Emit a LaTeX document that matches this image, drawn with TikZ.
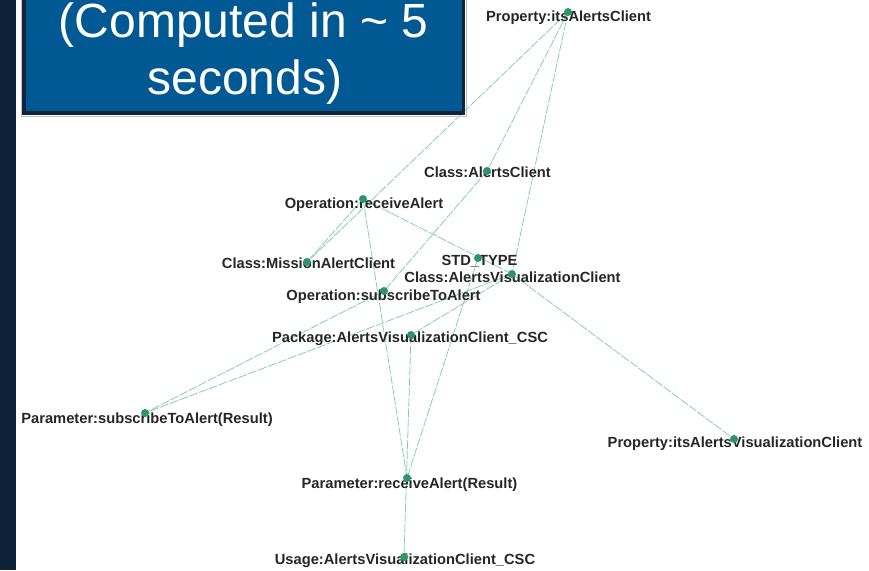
\documentclass[tikz,border=0pt]{standalone}
\usepackage{fontspec}
\setmainfont{Liberation Sans}
\pgfdeclarelayer{paper}
\pgfdeclarelayer{edges}
\pgfdeclarelayer{labels}
\pgfsetlayers{paper,edges,labels,main}
\definecolor{stripnavy}{RGB}{14,34,57}
\definecolor{boxblue}{RGB}{0,89,146}
\definecolor{boxedge}{RGB}{16,36,60}
\definecolor{edgemint}{RGB}{128,206,172}
\definecolor{dotgreen}{RGB}{44,150,104}
\tikzset{
  vdot/.style={circle,fill=dotgreen,draw=none,inner sep=0pt,minimum size=8pt},
  vlabel/.style={anchor=base,inner sep=0pt,text=black!85,font=\fontsize{14.7}{16}\selectfont\bfseries},
  dep/.style={draw=edgemint,line width=0.75pt,dash pattern=on 9pt off 1.5pt},
  bigtext/.style={anchor=base,inner sep=0pt,text=white,font=\fontsize{48}{58}\selectfont}
}
\begin{document}
\begin{tikzpicture}[x=1pt,y=-1pt]
\useasboundingbox (0,0) rectangle (869,570);
\begin{pgfonlayer}{paper}
\fill[white] (0,0) rectangle (869,570);
\end{pgfonlayer}

% graph vertices
\begin{scope}
\clip (23,0) rectangle (869,570);
\node[vdot] (piac)  at (568,12)  {};
\node[vdot] (cac)   at (487,171) {};
\node[vdot] (ra)    at (363,199) {};
\node[vdot] (mac)   at (307,262) {};
\node[vdot] (std)   at (478,258) {};
\node[vdot] (cavc)  at (512,274) {};
\node[vdot] (sta)   at (384,291) {};
\node[vdot] (pkg)   at (411,335) {};
\node[vdot] (pstar) at (145,413) {};
\node[vdot] (piavc) at (734,439) {};
\node[vdot] (prar)  at (407,478) {};
\node[vdot] (usg)   at (404,557) {};

\begin{pgfonlayer}{labels}
\node[vlabel] (piacL)  at (568.5,21) {Property:itsAlertsClient};
\node[vlabel] (cacL)   at (487.5,177) {Class:AlertsClient};
\node[vlabel] (raL)    at (364,208) {Operation:receiveAlert};
\node[vlabel] (macL)   at (308.5,268) {Class:MissionAlertClient};
\node[vlabel] (stdL)   at (479.5,265) {STD\_TYPE};
\node[vlabel] (cavcL)  at (512.5,282) {Class:AlertsVisualizationClient};
\node[vlabel] (staL)   at (383.5,300) {Operation:subscribeToAlert};
\node[vlabel] (pkgL)   at (410,342) {Package:AlertsVisualizationClient\_CSC};
\node[vlabel] (pstarL) at (147,423) {Parameter:subscribeToAlert(Result)};
\node[vlabel] (piavcL) at (735,447) {Property:itsAlertsVisualizationClient};
\node[vlabel] (prarL)  at (409.5,488) {Parameter:receiveAlert(Result)};
\node[vlabel] (usgL)   at (405,564) {Usage:AlertsVisualizationClient\_CSC};
\end{pgfonlayer}

\begin{pgfonlayer}{edges}
\draw[dep] (piac.center) -- (mac.center);
\draw[dep] (piac.center) -- (cac.center);
\draw[dep] (piac.center) -- (cavc.center);
\draw[dep] (ra.center) -- (mac.center);
\draw[dep] (ra.center) -- (cavc.center);
\draw[dep] (ra.center) -- (prar.center);
\draw[dep] (cac.center) -- (sta.center);
\draw[dep] (sta.center) -- (pstar.center);
\draw[dep] (cavc.center) -- (pstar.center);
\draw[dep] (cavc.center) -- (pkg.center);
\draw[dep] (cavc.center) -- (piavc.center);
\draw[dep] (std.center) -- (prar.center);
\draw[dep] (pkg.center) -- (usg.center);
\end{pgfonlayer}
\end{scope}

% title panel and side strip
\fill[stripnavy] (0,0) rectangle (15.5,570);
\draw[black!25,line width=0.8pt] (21,-10) rectangle (466.5,116.5);
\filldraw[fill=boxblue,draw=boxedge,line width=3.5pt] (24,-10) rectangle (463.5,113);
\node[bigtext] (line1) at (243.5,37) {(Computed in \char"7E{} 5};
\node[bigtext] (line2) at (245,94) {seconds)};
\end{tikzpicture}
\end{document}
